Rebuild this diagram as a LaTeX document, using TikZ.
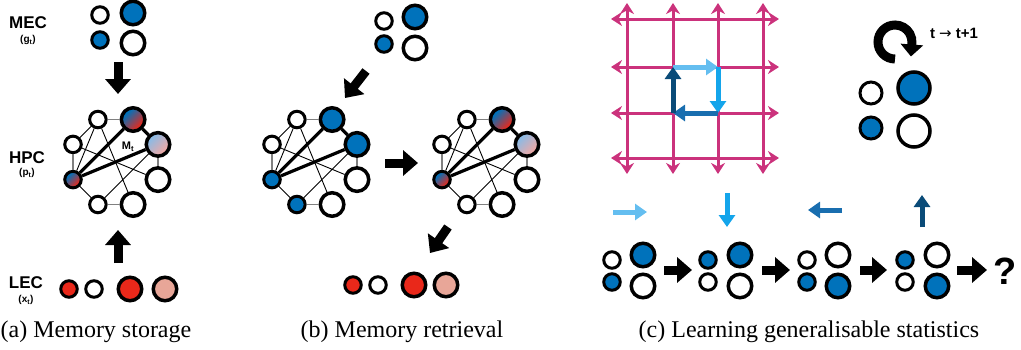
\documentclass[tikz,border=0pt]{standalone}
\usepackage{fontspec}
\setmainfont{Liberation Serif}
\setsansfont{Liberation Sans}
\newfontfamily\arrowfont{DejaVu Sans}
\usetikzlibrary{arrows.meta}
\definecolor{memblue}{RGB}{0,114,187}
\definecolor{memred}{RGB}{233,40,26}
\definecolor{mempink}{RGB}{232,166,152}
\definecolor{paleblue}{RGB}{140,186,228}
\definecolor{palered}{RGB}{240,168,164}
\definecolor{gridpink}{RGB}{203,50,124}
\definecolor{stepA}{RGB}{100,190,240}
\definecolor{stepB}{RGB}{20,165,235}
\definecolor{stepC}{RGB}{25,110,175}
\definecolor{stepD}{RGB}{10,75,120}
\pgfdeclareverticalshading{mixshade}{100bp}{color(0bp)=(memred); color(30bp)=(memred); color(70bp)=(memblue); color(100bp)=(memblue)}
\pgfdeclareverticalshading{paleshade}{100bp}{color(0bp)=(palered); color(30bp)=(palered); color(70bp)=(paleblue); color(100bp)=(paleblue)}
\begin{document}
\begin{tikzpicture}[x=1pt,y=-1pt,
  smallstyle/.style={circle, draw, line width=3pt, minimum size=16.5pt, inner sep=0pt, fill=white},
  bigstyle/.style={circle, draw, line width=3.5pt, minimum size=23.5pt, inner sep=0pt, fill=white},
  bluestyle/.style={fill=memblue},
  redstyle/.style={fill=memred},
  pinkstyle/.style={fill=mempink},
  gradstyle/.style={shade, shading=mixshade, shading angle=45},
  palestyle/.style={shade, shading=paleshade, shading angle=45},
  ringstyle/.style={draw=gray, line width=1.8pt},
  linkstyle/.style={line width=0.9pt},
  strongstyle/.style={line width=3.2pt},
  fatstyle/.style={line width=9pt, -{Triangle[length=15pt,width=25pt]}},
  gridstyle/.style={draw=gridpink, line width=3pt, {Stealth[length=11pt,width=14pt]}-{Stealth[length=11pt,width=14pt]}},
  stepstyle/.style={line width=5pt, -{Triangle[length=12pt,width=16pt]}},
  labelstyle/.style={font=\sffamily\bfseries\fontsize{17}{17}\selectfont, anchor=base},
  substyle/.style={font=\sffamily\bfseries\fontsize{10}{10}\selectfont},
  captionstyle/.style={font=\fontsize{24}{24}\selectfont, anchor=base}]
\useasboundingbox (0,0) rectangle (1021,349);

% (a) memory storage
\node[labelstyle] (meclbl) at (28,28) {MEC};
\node[substyle] (mecsub) at (28,40) {(g\textsubscript{t})};
\node[labelstyle] (hpclbl) at (27,163) {HPC};
\node[substyle] (hpcsub) at (27,173) {(p\textsubscript{t})};
\node[labelstyle] (leclbl) at (26,288) {LEC};
\node[substyle] (lecsub) at (26,300) {(x\textsubscript{t})};

\node[smallstyle] (ma1) at (100,15) {};
\node[bigstyle, bluestyle] (ma2) at (133,13) {};
\node[smallstyle, bluestyle] (ma3) at (100,40) {};
\node[bigstyle] (ma4) at (133,43) {};

\begin{scope}[shift={(115.5,162)}]
  \node[smallstyle] (A1) at (-112.5:46) {};
  \node[bigstyle, gradstyle] (A2) at (-67.5:46) {};
  \node[bigstyle, palestyle] (A3) at (-22.5:46) {};
  \node[bigstyle] (A4) at (22.5:46) {};
  \node[bigstyle] (A5) at (67.5:46) {};
  \node[smallstyle] (A6) at (112.5:46) {};
  \node[smallstyle, gradstyle] (A7) at (157.5:46) {};
  \node[smallstyle] (A8) at (202.5:46) {};
\end{scope}

\node[smallstyle, redstyle] (la1) at (69,289) {};
\node[smallstyle] (la2) at (94,289) {};
\node[bigstyle, redstyle] (la3) at (130,289) {};
\node[bigstyle, pinkstyle] (la4) at (165,289) {};

\coordinate (aDownS) at (118,62);
\coordinate (aDownE) at (118,94);
\coordinate (aUpS) at (118,263);
\coordinate (aUpE) at (118,230);
\draw[fatstyle] (aDownS) -- (aDownE);
\draw[fatstyle] (aUpS) -- (aUpE);

% (b) memory retrieval
\node[smallstyle] (mb1) at (384,21) {};
\node[bigstyle, bluestyle] (mb2) at (415,17) {};
\node[smallstyle, bluestyle] (mb3) at (384,44) {};
\node[bigstyle] (mb4) at (415,48) {};

\begin{scope}[shift={(314.5,162)}]
  \node[smallstyle] (B1) at (-112.5:46) {};
  \node[bigstyle, bluestyle] (B2) at (-67.5:46) {};
  \node[bigstyle, bluestyle] (B3) at (-22.5:46) {};
  \node[bigstyle] (B4) at (22.5:46) {};
  \node[bigstyle] (B5) at (67.5:46) {};
  \node[smallstyle, bluestyle] (B6) at (112.5:46) {};
  \node[smallstyle, bluestyle] (B7) at (157.5:46) {};
  \node[smallstyle] (B8) at (202.5:46) {};
\end{scope}

\begin{scope}[shift={(484.5,162)}]
  \node[smallstyle] (C1) at (-112.5:46) {};
  \node[bigstyle, gradstyle] (C2) at (-67.5:46) {};
  \node[bigstyle, palestyle] (C3) at (-22.5:46) {};
  \node[bigstyle] (C4) at (22.5:46) {};
  \node[bigstyle] (C5) at (67.5:46) {};
  \node[smallstyle] (C6) at (112.5:46) {};
  \node[smallstyle, gradstyle] (C7) at (157.5:46) {};
  \node[smallstyle] (C8) at (202.5:46) {};
\end{scope}

\node[smallstyle, redstyle] (lb1) at (353,285) {};
\node[smallstyle] (lb2) at (378,285) {};
\node[bigstyle, redstyle] (lb3) at (414,285) {};
\node[bigstyle, pinkstyle] (lb4) at (446,285) {};

\coordinate (bInS) at (366,71);
\coordinate (bInE) at (345,98);
\coordinate (bMidS) at (385,163);
\coordinate (bMidE) at (418,163);
\coordinate (bOutS) at (448,227);
\coordinate (bOutE) at (430,253);
\draw[fatstyle] (bInS) -- (bInE);
\draw[fatstyle] (bMidS) -- (bMidE);
\draw[fatstyle] (bOutS) -- (bOutE);

% ring connections
\foreach \p in {A,B,C} {
  \draw[ringstyle] (\p1) -- (\p2) (\p3) -- (\p4) (\p5) -- (\p6) (\p7) -- (\p8);
  \draw[linkstyle] (\p8) -- (\p1) (\p6) -- (\p7) (\p1) -- (\p7) (\p1) -- (\p5) (\p8) -- (\p4) (\p6) -- (\p3);
  \draw[strongstyle] (\p2) -- (\p3) (\p7) -- (\p2) (\p7) -- (\p3);
}
\node[font=\sffamily\bfseries\fontsize{11}{11}\selectfont] (mlbl) at (128,147) {M\textsubscript{t}};

% (c) learning generalisable statistics
\foreach \x in {627,673,718,763} \draw[gridstyle] (\x,3) -- (\x,174);
\foreach \y in {19,67,113,158} \draw[gridstyle] (611,\y) -- (779,\y);
\coordinate (g1) at (673,67);
\coordinate (g2) at (718,67);
\coordinate (g3) at (718,113);
\coordinate (g4) at (673,113);
\draw[stepstyle, stepA] (g1) -- (g2);
\draw[stepstyle, stepB] (g2) -- (g3);
\draw[stepstyle, stepC] (g3) -- (g4);
\draw[stepstyle, stepD] (g4) -- (g1);

\coordinate (turn) at (895,42);
\draw[line width=9pt, -{Triangle[length=12pt,width=22pt]}] ([shift={(270:17pt)}]turn) arc[start angle=270, end angle=-5, radius=17pt] -- ++(-1,13);
\node[font=\sffamily\bfseries\fontsize{15}{15}\selectfont, anchor=base] (tlbl) at (954,38) {t {\normalfont\arrowfont →} t+1};

\node[smallstyle, minimum size=22pt] (mc1) at (871,93) {};
\node[bigstyle, bluestyle, minimum size=32pt] (mc2) at (914,88) {};
\node[smallstyle, bluestyle, minimum size=22pt] (mc3) at (871,128) {};
\node[bigstyle, minimum size=32pt] (mc4) at (914,131) {};

\coordinate (dR1) at (613,212);
\coordinate (dR2) at (647,212);
\coordinate (dD1) at (727,193);
\coordinate (dD2) at (727,227);
\coordinate (dL1) at (842,210);
\coordinate (dL2) at (808,210);
\coordinate (dU1) at (922,227);
\coordinate (dU2) at (922,195);
\draw[stepstyle, stepA] (dR1) -- (dR2);
\draw[stepstyle, stepB] (dD1) -- (dD2);
\draw[stepstyle, stepC] (dL1) -- (dL2);
\draw[stepstyle, stepD] (dU1) -- (dU2);

\node[smallstyle] (s1a) at (612,260) {};
\node[bigstyle, bluestyle] (s1b) at (643,255) {};
\node[smallstyle, bluestyle] (s1c) at (612,282) {};
\node[bigstyle] (s1d) at (643,286) {};

\node[smallstyle, bluestyle] (s2a) at (708,260) {};
\node[bigstyle, bluestyle] (s2b) at (740,255) {};
\node[smallstyle] (s2c) at (708,282) {};
\node[bigstyle] (s2d) at (740,286) {};

\node[smallstyle] (s3a) at (807,260) {};
\node[bigstyle] (s3b) at (838,255) {};
\node[smallstyle, bluestyle] (s3c) at (807,282) {};
\node[bigstyle, bluestyle] (s3d) at (838,286) {};

\node[smallstyle, bluestyle] (s4a) at (905,260) {};
\node[bigstyle] (s4b) at (937,255) {};
\node[smallstyle] (s4c) at (905,282) {};
\node[bigstyle, bluestyle] (s4d) at (937,286) {};

\node[font=\sffamily\bfseries\fontsize{38}{38}\selectfont] (qmark) at (1005,271) {?};

\coordinate (t1) at (664,270);
\coordinate (t2) at (692,270);
\coordinate (t3) at (762,270);
\coordinate (t4) at (790,270);
\coordinate (t5) at (860,270);
\coordinate (t6) at (887,270);
\coordinate (t7) at (957,270);
\coordinate (t8) at (987,270);
\draw[fatstyle] (t1) -- (t2);
\draw[fatstyle] (t3) -- (t4);
\draw[fatstyle] (t5) -- (t6);
\draw[fatstyle] (t7) -- (t8);

% captions
\node[captionstyle] (capA) at (96,337) {(a) Memory storage};
\node[captionstyle] (capB) at (402,337) {(b) Memory retrieval};
\node[captionstyle] (capC) at (809,337) {(c) Learning generalisable statistics};
\end{tikzpicture}
\end{document}
